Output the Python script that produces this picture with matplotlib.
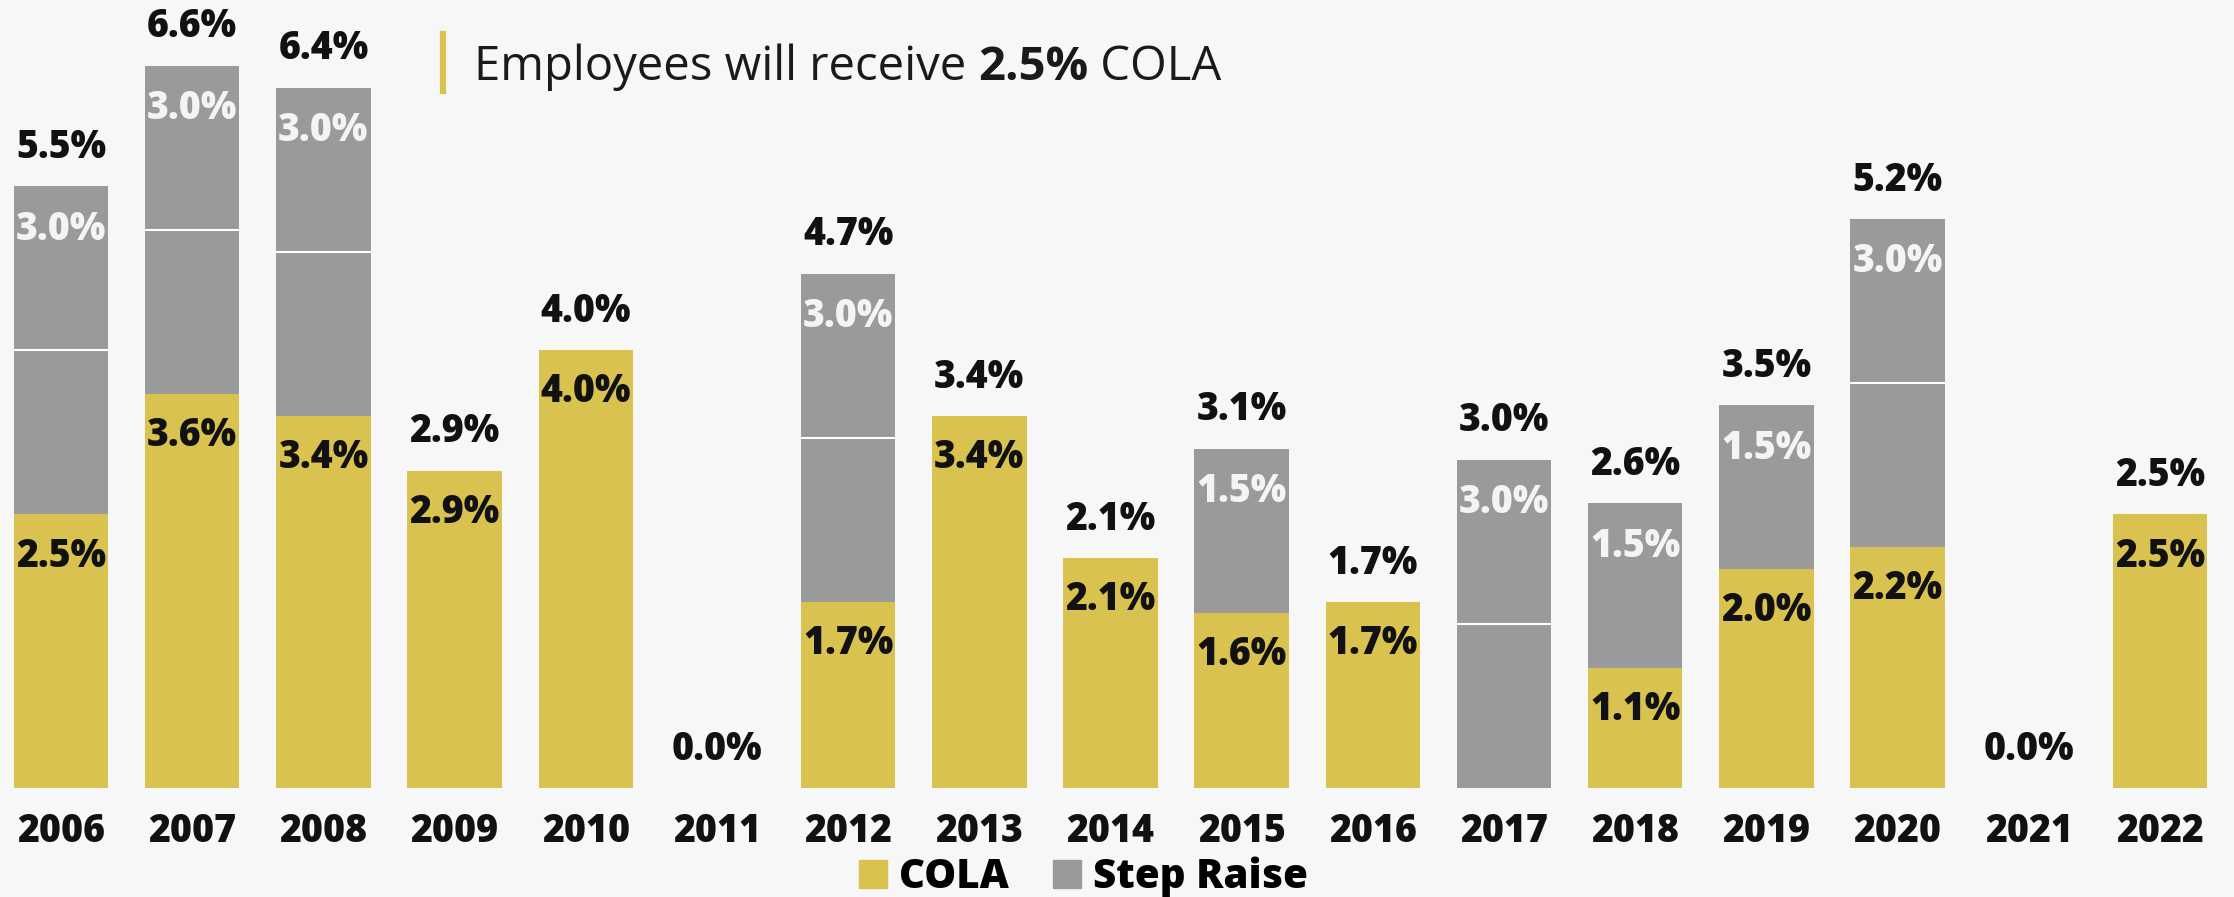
import matplotlib.pyplot as plt
from matplotlib.patches import Patch
import numpy as np

plt.rcParams['font.family'] = ['Open Sans', 'DejaVu Sans']

# Dados
anos = ['2006', '2007', '2008', '2009', '2010', '2011', '2012', '2013', '2014',
        '2015', '2016', '2017', '2018', '2019', '2020', '2021', '2022']
cola = [2.5, 3.6, 3.4, 2.9, 4.0, 0.0, 1.7, 3.4, 2.1, 1.6, 1.7, 0.0, 1.1, 2.0, 2.2, 0.0, 2.5]
# step raise em duas parcelas de 1.5
step_a = [1.5, 1.5, 1.5, 0, 0, 0, 1.5, 0, 0, 1.5, 0, 1.5, 1.5, 1.5, 1.5, 0, 0]
step_b = [1.5, 1.5, 1.5, 0, 0, 0, 1.5, 0, 0, 0, 0, 1.5, 0, 0, 1.5, 0, 0]

amarelo = '#D9C24F'
cinza = '#9A9A9A'
fundo = '#F7F7F7'

cola = np.array(cola)
step_a = np.array(step_a)
step_b = np.array(step_b)
step = step_a + step_b
total = cola + step
x = np.arange(len(anos))
larg = 0.72

fig = plt.figure(figsize=(22.34, 8.97), dpi=100, facecolor=fundo)
ax = fig.add_axes([0, 0.1215, 1, 0.8785])
ax.set_facecolor(fundo)

ax.bar(x, cola, larg, color=amarelo)
ax.bar(x, step_a, larg, bottom=cola, color=cinza)
ax.bar(x, step_b, larg, bottom=cola + step_a, color=cinza)

# linha branca entre as parcelas
for i in range(len(anos)):
    if step_a[i] > 0 and step_b[i] > 0:
        ax.plot([x[i] - larg/2, x[i] + larg/2], [cola[i] + step_a[i]]*2,
                color='white', lw=1.5)

fs = 27
peso = 'heavy'
for i in range(len(anos)):
    ax.annotate(f'{total[i]:.1f}%', (x[i], total[i]), xytext=(0, 28),
                textcoords='offset points', ha='center', va='center',
                fontsize=fs, fontweight=peso, color='#111111')
    if cola[i] > 0:
        ax.annotate(f'{cola[i]:.1f}%', (x[i], cola[i]), xytext=(0, -30),
                    textcoords='offset points', ha='center', va='center',
                    fontsize=fs, fontweight=peso, color='#111111')
    if step[i] > 0:
        ax.annotate(f'{step[i]:.1f}%', (x[i], total[i]), xytext=(0, -31),
                    textcoords='offset points', ha='center', va='center',
                    fontsize=fs, fontweight=peso, color='#F4F4F4')

ax.set_xlim(-0.465, 16.564)
ax.set_ylim(0, 7.2)
ax.set_xticks(x)
ax.set_xticklabels(anos, fontsize=fs, fontweight=peso, color='#111111')
ax.tick_params(axis='x', length=0, pad=17)
ax.set_yticks([])
for s in ax.spines.values():
    s.set_visible(False)

# Título
fig.add_artist(plt.Line2D([0.1985, 0.1985], [0.898, 0.962], color=amarelo, lw=4.5))
t1 = fig.text(0.212, 0.925, 'Employees will receive ', fontsize=34, va='center',
              color='#1A1A1A')
t2 = ax.annotate('2.5%', xy=(1, 0), xycoords=t1, va='bottom', ha='left',
                 fontsize=34, fontweight='bold', color='#1A1A1A')
ax.annotate(' COLA', xy=(1, 0), xycoords=t2, va='bottom', ha='left',
            fontsize=34, color='#1A1A1A')

# Legenda
handles = [Patch(color=amarelo, label='COLA'), Patch(color=cinza, label='Step Raise')]
fig.legend(handles=handles, loc='center', bbox_to_anchor=(0.485, 0.022), ncol=2,
           frameon=False, prop={'weight': peso, 'size': 29},
           handlelength=0.7, handleheight=0.7, handletextpad=0.3, columnspacing=1.1)

plt.savefig('out.png', dpi=100, facecolor=fundo)
